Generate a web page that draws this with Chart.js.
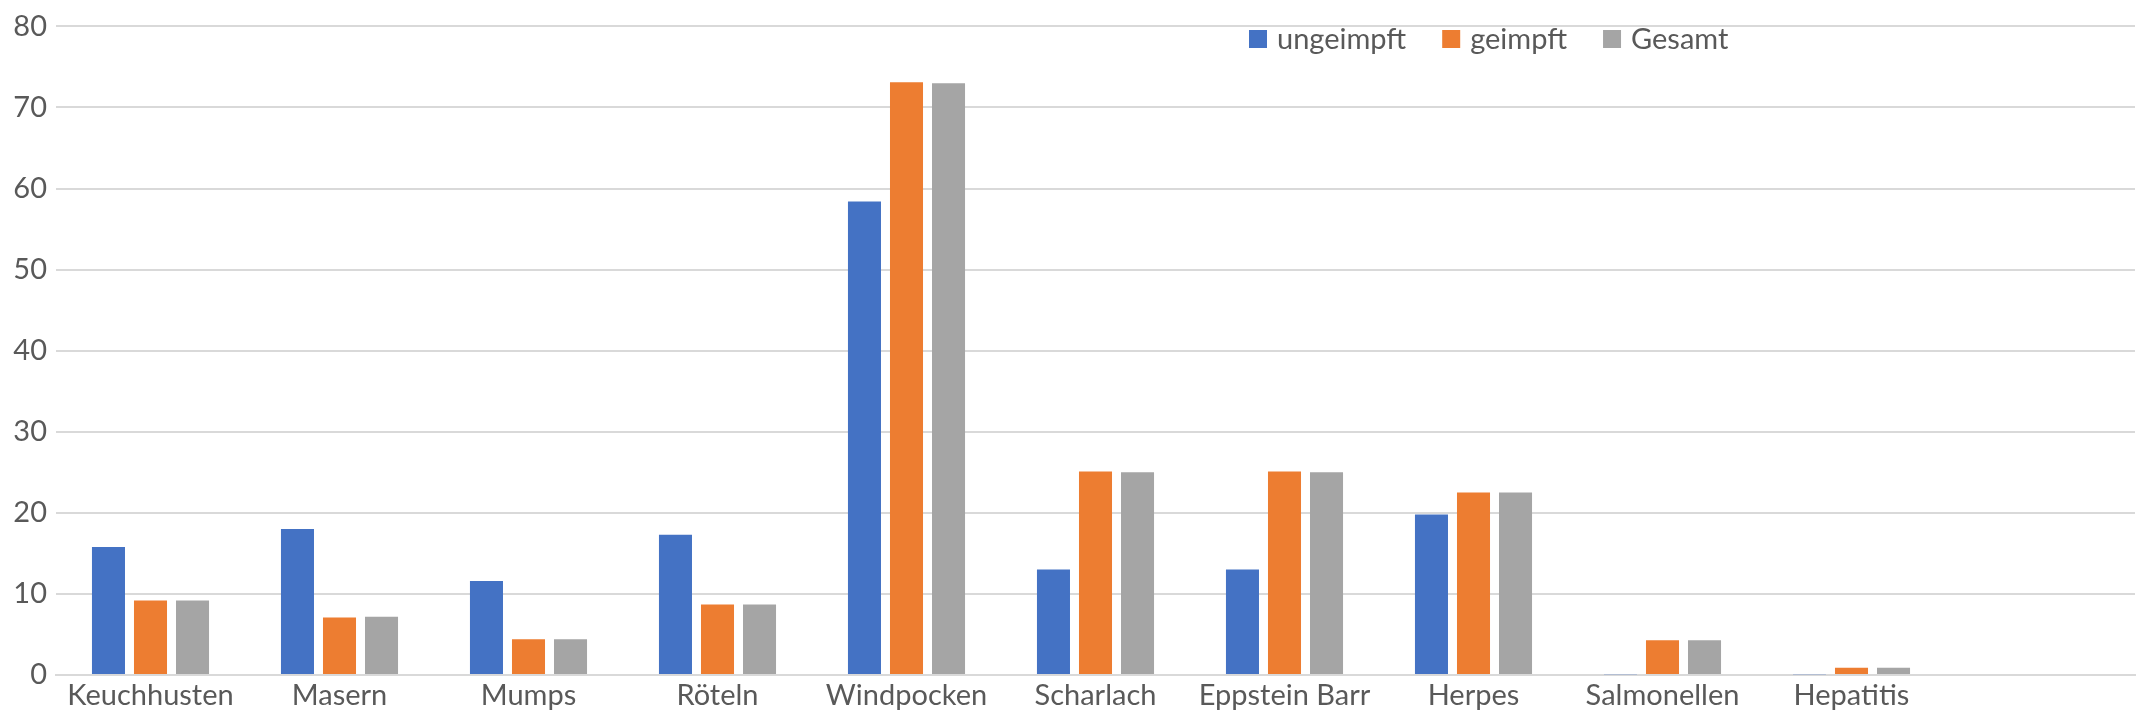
<!DOCTYPE html>
<html>
<head>
<meta charset="utf-8">
<script src="https://cdn.jsdelivr.net/npm/chart.js@4.4.1/dist/chart.umd.min.js"></script>
<style>
  html, body { margin: 0; padding: 0; background: #ffffff; }
  #wrap { width: 2136px; height: 713px; position: relative; }
</style>
</head>
<body>
<div id="wrap"><canvas id="chart"></canvas></div>
<script>
// Erkrankungen (letzte Kategorie bleibt leer)
const categories = ['Keuchhusten', 'Masern', 'Mumps', 'Röteln', 'Windpocken', 'Scharlach',
  'Eppstein Barr', 'Herpes', 'Salmonellen', 'Hepatitis', ''];
const seriesNames = ['ungeimpft', 'geimpft', 'Gesamt'];
const ungeimpft = [15.8, 18.0, 11.6, 17.3, 58.4, 13.0, 13.0, 19.8, 0.1, 0.1, null];
const geimpft   = [9.2, 7.1, 4.4, 8.7, 73.1, 25.1, 25.1, 22.5, 4.3, 0.9, null];
const gesamt    = [9.2, 7.2, 4.4, 8.7, 73.0, 25.0, 25.0, 22.5, 4.3, 0.9, null];
const yTicks = [0, 10, 20, 30, 40, 50, 60, 70, 80];

const colors = ['#4472C4', '#ED7D31', '#A5A5A5'];
const textColor = '#595959';
const fontFamily = 'Lato, "Noto Sans", sans-serif';

// Legende innerhalb der Zeichenfläche, rechts oben
const insideLegend = {
  id: 'insideLegend',
  afterDraw(chart) {
    const ctx = chart.ctx;
    const size = 29;
    ctx.save();
    ctx.font = size + 'px ' + fontFamily;
    ctx.textBaseline = 'middle';
    ctx.textAlign = 'left';
    let x = 1249;
    const yMid = 39;
    chart.data.datasets.forEach((ds) => {
      ctx.fillStyle = ds.backgroundColor;
      ctx.fillRect(x, yMid - 9, 18, 18);
      ctx.fillStyle = textColor;
      ctx.fillText(ds.label, x + 28, yMid + 1);
      x += 28 + ctx.measureText(ds.label).width + 36;
    });
    ctx.restore();
  }
};

const seriesValues = [ungeimpft, geimpft, gesamt];

new Chart(document.getElementById('chart'), {
  type: 'bar',
  data: {
    labels: categories,
    datasets: seriesNames.map((name, i) => ({
      label: name,
      data: seriesValues[i],
      backgroundColor: colors[i],
      borderWidth: 0,
      categoryPercentage: 0.667,
      barPercentage: 0.786
    }))
  },
  options: {
    responsive: true,
    maintainAspectRatio: false,
    animation: false,
    layout: { padding: { top: 22, right: 1, left: 0, bottom: 0 } },
    plugins: {
      legend: { display: false },
      tooltip: { enabled: false }
    },
    scales: {
      x: {
        grid: { display: false, drawTicks: false },
        border: { display: true, color: '#D9D9D9', width: 2 },
        ticks: {
          color: textColor,
          font: { family: fontFamily, size: 29 },
          padding: 3,
          maxRotation: 0,
          autoSkip: false
        },
        afterFit(scale) { scale.height = 38; }
      },
      y: {
        min: 0,
        max: 80,
        afterBuildTicks(scale) { scale.ticks = yTicks.map(v => ({ value: v })); },
        grid: { color: '#D9D9D9', lineWidth: 2, drawTicks: false },
        border: { display: false },
        ticks: {
          color: textColor,
          font: { family: fontFamily, size: 29 },
          padding: 9
        },
        afterFit(scale) { scale.width = 56; }
      }
    }
  },
  plugins: [insideLegend]
});
</script>
</body>
</html>
